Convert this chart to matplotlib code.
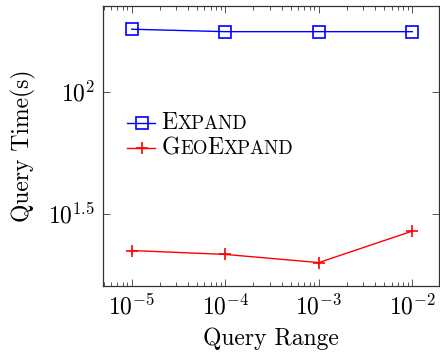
import matplotlib
matplotlib.use('Agg')
import matplotlib.pyplot as plt
from matplotlib.lines import Line2D
from matplotlib.ticker import NullLocator
from matplotlib import transforms

plt.rcParams['mathtext.fontset'] = 'cm'
plt.rcParams['font.family'] = 'cmr10'
plt.rcParams['axes.formatter.use_mathtext'] = True

# query ranges and measured query times (seconds)
query_range = [1e-5, 1e-4, 1e-3, 1e-2]
expand_time = [180.6, 176.5, 176.5, 176.5]
geo_expand_time = [22.3, 21.5, 19.9, 26.8]

x_ticks = [1e-5, 1e-4, 1e-3, 1e-2]
x_tick_labels = [r'$10^{-5}$', r'$10^{-4}$', r'$10^{-3}$', r'$10^{-2}$']
y_ticks = [10 ** 1.5, 10 ** 2]
y_tick_labels = [r'$10^{1.5}$', r'$10^{2}$']

FS = 17

fig = plt.figure(figsize=(4.4, 3.56), dpi=100)
ax = fig.add_axes([0.2352, 0.1966, 0.7625, 0.7865])

expand_style = dict(color='blue', lw=1.0, marker='s', ms=8.5,
                    mfc='none', mec='blue', mew=1.2)
geo_style = dict(color='red', lw=1.0, marker='+', ms=9, mew=1.2)

ax.plot(query_range, expand_time, **expand_style)
ax.plot(query_range, geo_expand_time, **geo_style)

ax.set_xscale('log')
ax.set_yscale('log')
ax.set_xlim(10 ** -5.3015, 10 ** -1.7145)
ax.set_ylim(10 ** 1.2027, 10 ** 2.352)

ax.set_xticks(x_ticks)
ax.set_xticklabels(x_tick_labels, fontsize=FS)
ax.set_yticks(y_ticks)
ax.set_yticklabels(y_tick_labels, fontsize=FS)
ax.yaxis.set_minor_locator(NullLocator())

ax.tick_params(which='both', direction='in', top=True, right=True,
               color='#555555', width=0.7)
ax.tick_params(which='major', length=4.7, pad=6)
ax.tick_params(which='minor', length=2.9)
for s in ax.spines.values():
    s.set_color('#333333')
    s.set_linewidth(0.9)

ax.set_xlabel('Query Range', fontsize=FS)
ax.set_ylabel('Query Time(s)', fontsize=FS)
ax.xaxis.set_label_coords(0.5, -0.147)
ax.yaxis.set_label_coords(-0.2, 0.5)

# hand-made legend so the entries can be set in small caps
renderer = fig.canvas.get_renderer()


def smallcaps(x, y, parts):
    shift = 0.0
    for txt, big in parts:
        size = FS if big else FS * 0.8
        tr = transforms.offset_copy(ax.transAxes, fig=fig, x=shift, y=0,
                                    units='dots')
        t = ax.text(x, y, txt, fontsize=size, transform=tr,
                    ha='left', va='baseline')
        shift += t.get_window_extent(renderer).width


def legend_row(y_handle, style):
    line_only = {k: v for k, v in style.items()
                 if k in ('color', 'lw')}
    ax.add_line(Line2D([0.069, 0.153], [y_handle, y_handle],
                       transform=ax.transAxes, **line_only))
    mark_only = dict(style, lw=0)
    ax.add_line(Line2D([0.114], [y_handle], transform=ax.transAxes,
                       **mark_only))


legend_row(0.581, expand_style)
legend_row(0.492, geo_style)
smallcaps(0.173, 0.559, [('E', True), ('XPAND', False)])
smallcaps(0.173, 0.470, [('G', True), ('EO', False), ('E', True),
                          ('XPAND', False)])

fig.savefig('out.png', dpi=100)
